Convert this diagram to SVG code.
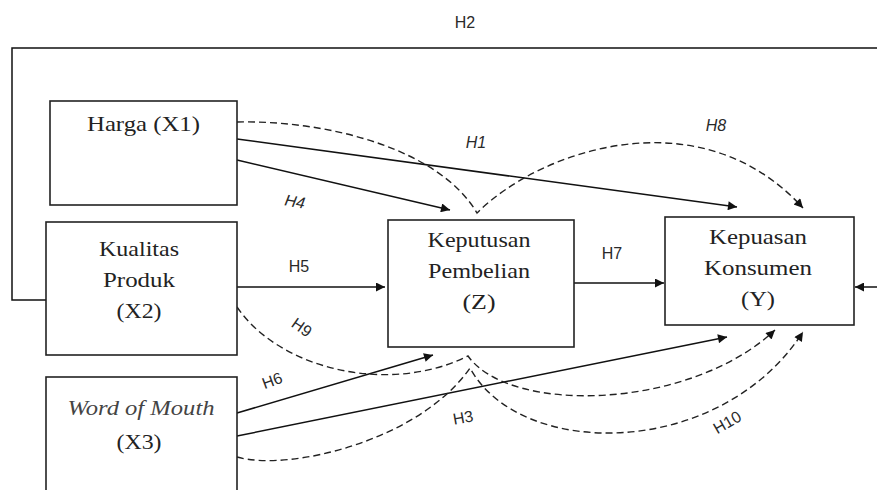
<svg xmlns="http://www.w3.org/2000/svg" width="877" height="490" viewBox="0 0 877 490">
<defs>
<marker id="arr" viewBox="0 0 10 10" refX="10" refY="5" markerWidth="11" markerHeight="9" markerUnits="userSpaceOnUse" orient="auto">
<path d="M0,0 L10,5 L0,10 z" fill="#111"/>
</marker>
</defs>
<style>
.box{fill:#fff;stroke:#222;stroke-width:1.6}
.t{font-family:"Liberation Serif","Times New Roman",serif;font-size:22px;fill:#222;text-anchor:middle}
.ti{font-style:italic;fill:#444}
.ln{fill:none;stroke:#111;stroke-width:1.5}
.ds{fill:none;stroke:#222;stroke-width:1.4;stroke-dasharray:7 4}
.lb{font-family:"Liberation Sans",Arial,sans-serif;font-size:16px;fill:#2a2a2a;text-anchor:middle}
.it{font-style:italic}
</style>
<rect width="877" height="490" fill="#fff"/>
<g id="connectors">
<polyline class="ln" points="46,300 12,300 12,48 877,48"/>
<line class="ln" x1="877" y1="287" x2="855" y2="287" marker-end="url(#arr)"/>
<line class="ln" x1="237" y1="139" x2="737" y2="207" marker-end="url(#arr)"/>
<line class="ln" x1="237" y1="160" x2="450" y2="210" marker-end="url(#arr)"/>
<line class="ln" x1="237" y1="287" x2="385" y2="287" marker-end="url(#arr)"/>
<line class="ln" x1="237" y1="413" x2="433" y2="355" marker-end="url(#arr)"/>
<line class="ln" x1="237" y1="436" x2="727" y2="337" marker-end="url(#arr)"/>
<line class="ln" x1="574" y1="283" x2="664" y2="283" marker-end="url(#arr)"/>
<path class="ds" d="M237,122 C330,120 440,150 477,213 C540,150 700,95 803,208" marker-end="url(#arr)"/>
<path class="ds" d="M237,307 C280,370 390,395 468,356 C510,415 690,410 775,330" marker-end="url(#arr)"/>
<path class="ds" d="M237,457 C290,472 420,440 470,368 C520,460 720,460 803,332" marker-end="url(#arr)"/>
<text class="lb" x="465" y="28">H2</text>
<text class="lb it" x="476" y="148">H1</text>
<text class="lb it" x="716" y="131">H8</text>
<text class="lb it" transform="translate(295,201) rotate(10)" x="0" y="6">H4</text>
<text class="lb" x="299" y="272">H5</text>
<text class="lb" x="612" y="259">H7</text>
<text class="lb" transform="translate(302,327) rotate(35)" x="0" y="6">H9</text>
<text class="lb" transform="translate(272,380) rotate(-20)" x="0" y="6">H6</text>
<text class="lb" transform="translate(463,417) rotate(-10)" x="0" y="6">H3</text>
<text class="lb" transform="translate(727,422) rotate(-30)" x="0" y="6">H10</text>
</g>
<g id="harga">
<rect class="box" x="50" y="101" width="187" height="104"/>
<text class="t" x="143.5" y="131" textLength="113" lengthAdjust="spacingAndGlyphs">Harga (X1)</text>
</g>
<g id="kualitas">
<rect class="box" x="46" y="222" width="191" height="133"/>
<text class="t" x="139" y="256" textLength="80" lengthAdjust="spacingAndGlyphs">Kualitas</text>
<text class="t" x="139" y="287" textLength="72" lengthAdjust="spacingAndGlyphs">Produk</text>
<text class="t" x="139" y="318" textLength="45" lengthAdjust="spacingAndGlyphs">(X2)</text>
</g>
<g id="wom">
<rect class="box" x="46" y="377" width="191" height="140"/>
<text class="t ti" x="141" y="415" textLength="147" lengthAdjust="spacingAndGlyphs">Word of Mouth</text>
<text class="t" x="139" y="449" textLength="45" lengthAdjust="spacingAndGlyphs">(X3)</text>
</g>
<g id="keputusan">
<rect class="box" x="388" y="220" width="186" height="127"/>
<text class="t" x="479" y="247" textLength="103" lengthAdjust="spacingAndGlyphs">Keputusan</text>
<text class="t" x="479" y="278" textLength="102" lengthAdjust="spacingAndGlyphs">Pembelian</text>
<text class="t" x="479" y="309" textLength="33" lengthAdjust="spacingAndGlyphs">(Z)</text>
</g>
<g id="kepuasan">
<rect class="box" x="665" y="217" width="189" height="108"/>
<text class="t" x="758" y="244" textLength="98" lengthAdjust="spacingAndGlyphs">Kepuasan</text>
<text class="t" x="758" y="275" textLength="108" lengthAdjust="spacingAndGlyphs">Konsumen</text>
<text class="t" x="758" y="306" textLength="34" lengthAdjust="spacingAndGlyphs">(Y)</text>
</g>
</svg>
